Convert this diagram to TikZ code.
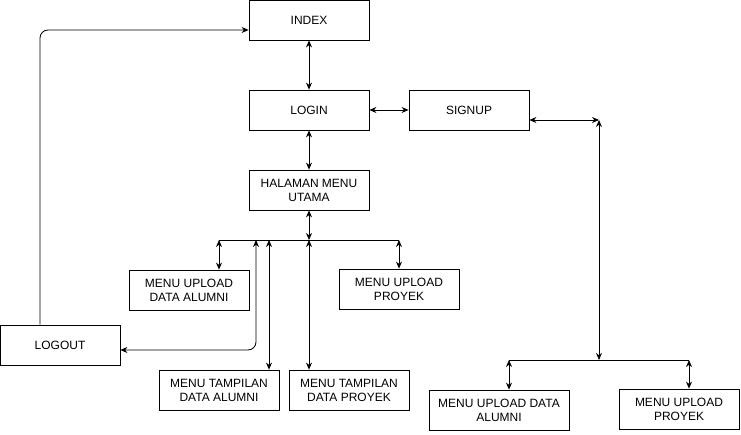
\documentclass[tikz,border=0pt]{standalone}
\usepackage{fontspec}
\setmainfont{Liberation Sans}
\usetikzlibrary{arrows.meta}
\tikzset{
    menubox/.style={draw, minimum width=120pt, minimum height=40pt, align=center, inner sep=2pt,
        font=\fontsize{12}{14}\selectfont},
}

\begin{document}
\begin{tikzpicture}[x=1pt, y=-1pt, >={Stealth[length=7pt,width=6pt]}, line width=0.8pt]
        \useasboundingbox (0,0) rectangle (741,435);

        \node[menubox] (index) at (309, 20) {INDEX};
        \node[menubox] (login) at (309, 110) {LOGIN};
        \node[menubox] (signup) at (469, 110) {SIGNUP};
        \node[menubox] (utama) at (309, 190) {HALAMAN MENU\\UTAMA};

        \node[menubox] (upalumni) at (189, 290) {MENU UPLOAD\\DATA ALUMNI};
        \node[menubox] (upproyek) at (399, 289) {MENU UPLOAD\\PROYEK};
        \node[menubox] (logout) at (60, 345) {LOGOUT};
        \node[menubox] (tampalumni) at (219, 390) {MENU TAMPILAN\\DATA ALUMNI};
        \node[menubox] (tampproyek) at (349, 390) {MENU TAMPILAN\\DATA PROYEK};

        \node[menubox, minimum width=140pt] (upalumni2) at (499, 410) {MENU UPLOAD DATA\\ALUMNI};
        \node[menubox] (upproyek2) at (679, 409) {MENU UPLOAD\\PROYEK};

        \coordinate (busl) at (219, 240);
        \coordinate (busm) at (309, 240);
        \coordinate (busr) at (399, 240);
        \coordinate (buslogout) at (256, 240);
        \coordinate (bustampil) at (269, 240);
        \coordinate (split) at (599, 120);
        \coordinate (bus2) at (599, 360);
        \coordinate (bus2l) at (509, 360);
        \coordinate (bus2r) at (689, 360);

        \draw (index) edge[<->] (login)
            (login) edge[<->] (signup)
            (login) edge[<->] (utama)
            (utama) edge[<->] (busm);

        \draw (busl) -- (busr);
        \draw (busl) edge[<->] (busl |- upalumni.north)
            (busr) edge[<->] (upproyek)
            (bustampil) edge[<->] (bustampil |- tampalumni.north)
            (busm) edge[<->] (busm |- tampproyek.north);

        \draw[<->, rounded corners=8pt] (buslogout) |- ([yshift=-5pt]logout.east);
        \draw[->, rounded corners=8pt] ([xshift=-20pt]logout.north) |- ([yshift=-10pt]index.west);

        \draw[<->] ([yshift=-10pt]signup.east) -- (split);
        \draw[<->] (split) -- (bus2);
        \draw (bus2l) -- (bus2r);
        \draw (bus2l) edge[<->] (bus2l |- upalumni2.north)
            (bus2r) edge[<->] (bus2r |- upproyek2.north);
    \end{tikzpicture}
\end{document}
